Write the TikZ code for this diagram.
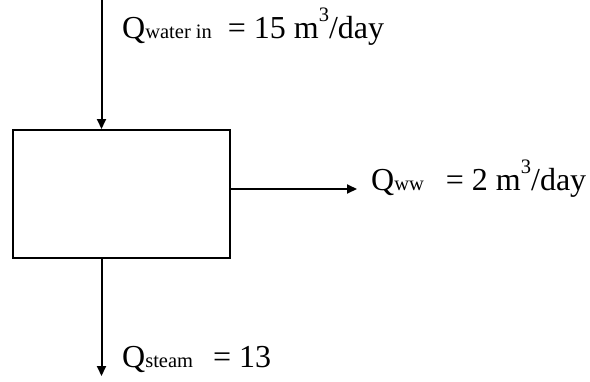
\documentclass[tikz,border=0pt]{standalone}
\usepackage{fontspec}
\setmainfont{Liberation Serif}
\usetikzlibrary{arrows.meta}
\tikzset{
  flow/.style={line width=2pt,-{Triangle[length=10pt,width=9pt]}},
  unit/.style={draw,line width=2pt,minimum width=217pt,minimum height=128pt,inner sep=0pt},
  lbl/.style={anchor=base west,inner sep=0pt,font=\fontsize{32}{38}\selectfont},
}
\newcommand{\sbs}[1]{{\fontsize{20.5}{24}\selectfont #1}}
\newcommand{\cube}{\raisebox{17pt}{\fontsize{20.5}{24}\selectfont 3}}
\begin{document}
\begin{tikzpicture}[x=1pt,y=-1pt]
\useasboundingbox (0,0) rectangle (590,381);
\node[unit] (box) at (121.5,194) {};
\coordinate (intop) at (101.5,0);
\coordinate (wwtip) at (357,189);
\coordinate (steamtip) at (101.5,376);
\draw[flow] (intop) -- (intop |- box.north);
\draw[flow] (box.east |- wwtip) -- (wwtip);
\draw[flow] (box.south -| steamtip) -- (steamtip);
\node[lbl] (lin) at (122,38) {Q\sbs{water in}\hspace{16pt}= 15 m\cube/day};
\node[lbl] (lww) at (371,190) {Q\sbs{ww}\hspace{22pt}= 2 m\cube/day};
\node[lbl] (lst) at (122,367) {Q\sbs{steam}\hspace{20pt}= 13};
\end{tikzpicture}
\end{document}
